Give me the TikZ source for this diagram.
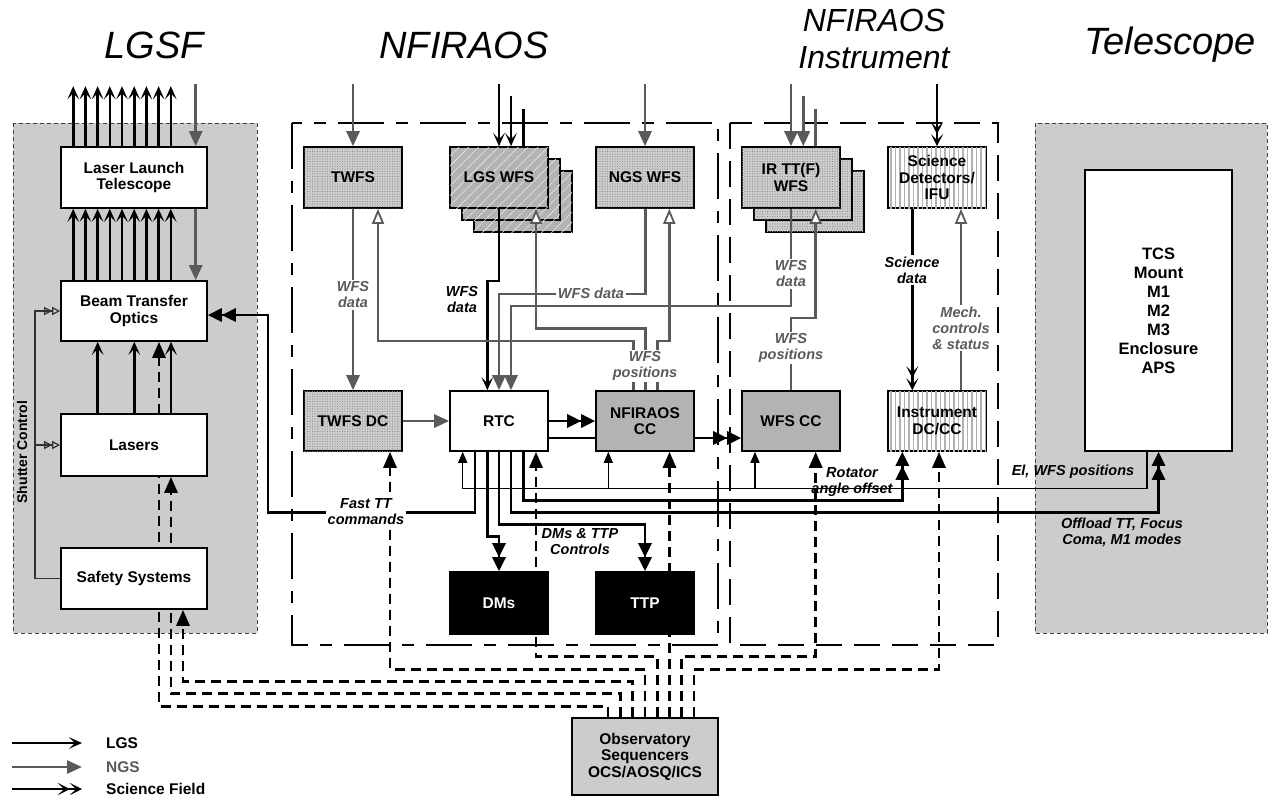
\documentclass[tikz,border=0pt]{standalone}
\usepackage{fontspec}
\setmainfont{Liberation Sans}
\usetikzlibrary{arrows.meta,patterns.meta,calc}
\definecolor{ngsgray}{HTML}{5A5A5A}
\definecolor{regiongray}{HTML}{CCCCCC}
\definecolor{boxgray}{HTML}{B3B3B3}
\definecolor{dotgray}{HTML}{CFCFCF}
\newcommand\BoxFnt{\fontsize{15.5}{16.5}\selectfont\bfseries}
\newcommand\TcsFnt{\fontsize{16.5}{19}\selectfont\bfseries}
\newcommand\LblFnt{\fontsize{14.5}{16}\selectfont\bfseries\itshape}
\newcommand\TitleFnt{\fontsize{38}{40}\selectfont\itshape}
\newcommand\SubTitleFnt{\fontsize{32}{37}\selectfont\itshape}
\pgfdeclarelayer{bgfill}
\pgfdeclarelayer{behind}
\pgfsetlayers{bgfill,behind,main}
\begin{document}
\begin{tikzpicture}[x=1pt,y=-1pt,
 box/.style={draw=black,line width=1.6pt,fill=white,inner sep=0pt,align=center,font=\BoxFnt,minimum width=98pt,minimum height=61pt},
 widebox/.style={box,minimum width=146pt},
 dotbox/.style={box,fill=dotgray,postaction={pattern={Dots[distance=2.5pt,radius=0.6pt]},pattern color=gray!90}},
 hatchbox/.style={box,fill=boxgray,postaction={pattern={Lines[angle=45,distance=7pt,line width=0.6pt]},pattern color=white!70!boxgray}},
 stripebox/.style={box,fill=white,postaction={pattern={Lines[angle=90,distance=4.5pt,line width=1.5pt]},pattern color=gray!60}},
 graybox/.style={box,fill=boxgray},
 blackbox/.style={box,fill=black,text=white},
 region/.style={draw=black!75,line width=0.9pt,dash pattern=on 4pt off 3pt,fill=regiongray},
 nfborder/.style={draw=black,line width=2.8pt,dash pattern=on 46pt off 12pt on 12pt off 12pt},
 instborder/.style={draw=black,line width=2.8pt,dash pattern=on 26pt off 12pt},
 title/.style={font=\TitleFnt,align=center,inner sep=0pt},
 lbl/.style={font=\LblFnt,align=center,inner sep=1.5pt},
 glbl/.style={lbl,text=ngsgray},
 wlbl/.style={fill=white},
 lgsline/.style={draw=black,line width=2.6pt,-{Stealth[length=13pt,width=11.5pt,inset=6pt]}},
 lgsplain/.style={draw=black,line width=2.6pt},
 ngsline/.style={draw=ngsgray,line width=2.7pt,-{Triangle[length=15pt,width=13pt]}},
 ngsplain/.style={draw=ngsgray,line width=2.7pt},
 openline/.style={draw=ngsgray,line width=2.5pt,-{Triangle[length=15pt,width=12pt,fill=white,line width=1.8pt]}},
 sciline/.style={draw=black,line width=2.6pt,-{Stealth[length=12pt,width=12pt,inset=6pt]Stealth[length=12pt,width=12pt,inset=6pt]}},
 dblline/.style={draw=black,line width=2.8pt,-{Triangle[length=14pt,width=13pt]Triangle[length=14pt,width=13pt]}},
 thickplain/.style={draw=black,line width=2.8pt},
 thinline/.style={draw=black,line width=1.3pt,-{Triangle[length=11pt,width=9pt]}},
 shutline/.style={draw=black!80,line width=1.2pt,-{Triangle[open,length=8pt,width=8pt]Triangle[open,length=8pt,width=8pt]}},
 dashline/.style={draw=black,line width=2.9pt,dash pattern=on 10pt off 6pt,-{Triangle[length=16pt,width=13pt]}},
]
\useasboundingbox (0,0) rectangle (1279,804);
\begin{pgfonlayer}{bgfill}
 \path[region] (13,123) rectangle (257,633);
 \path[region] (1035,123) rectangle (1267,633);
 \draw[nfborder] (292,123) rectangle (718,645);
 \draw[instborder] (730,123) rectangle (998,645);
\end{pgfonlayer}

% titles
\node[title] (tlgsf) at (154,45) {LGSF};
\node[title] (tnf) at (464,45) {NFIRAOS};
\node[title,font=\SubTitleFnt] (tinst) at (874,39) {NFIRAOS\\Instrument};
\node[title] (ttel) at (1170,45) {Telescope};

% LGSF boxes
\node[widebox,minimum height=61pt] (llt) at (134,177.5) {Laser Launch\\Telescope};
\node[widebox,minimum height=60pt] (bto) at (134,311) {Beam Transfer\\Optics};
\node[widebox,minimum height=62pt] (lasers) at (134,445) {Lasers};
\node[widebox,minimum height=61pt] (safety) at (134,578.5) {Safety Systems};

% NFIRAOS boxes
\node[dotbox] (twfs) at (353,177.5) {TWFS};
\node[hatchbox] (lgs3) at (523,201.5) {};
\node[hatchbox] (lgs2) at (511,189.5) {};
\node[hatchbox] (lgswfs) at (499,177.5) {LGS WFS};
\node[dotbox] (ngswfs) at (645,177.5) {NGS WFS};
\node[dotbox,minimum height=60pt] (twfsdc) at (353,421) {TWFS DC};
\node[box,minimum height=60pt] (rtc) at (499,421) {RTC};
\node[graybox,minimum height=60pt] (nfcc) at (645,421) {NFIRAOS\\CC};
\node[blackbox,minimum height=62pt] (dms) at (499,603) {DMs};
\node[blackbox,minimum height=62pt] (ttp) at (645,603) {TTP};

% Instrument boxes
\node[dotbox] (ir3) at (815,201.5) {};
\node[dotbox] (ir2) at (803,189.5) {};
\node[dotbox] (irtt) at (791,177.5) {IR TT(F)\\WFS};
\node[stripebox] (scidet) at (937,177.5) {Science\\Detectors/\\IFU};
\node[graybox,minimum height=60pt] (wfscc) at (791,421) {WFS CC};
\node[stripebox,minimum height=60pt] (instdc) at (937,421) {Instrument\\DC/CC};

% Telescope
\node[box,minimum width=147pt,minimum height=281pt,font=\TcsFnt] (tcs) at (1158.5,310.5) {TCS\\Mount\\M1\\M2\\M3\\Enclosure\\APS};

% Observatory sequencers
\node[box,minimum width=146pt,minimum height=77pt,fill=regiongray] (obs) at (645,756.5) {Observatory\\Sequencers\\OCS/AOSQ/ICS};

% ---------- dashed sequencer links (behind boxes)
\begin{pgfonlayer}{behind}
 \draw[dashline] ($(obs.north)+(-37,0)$) -- ++(0,-11) -| ($(bto.south)+(25,0)$);
 \draw[dashline] ($(obs.north)+(-24.7,0)$) -- ++(0,-24) -| ($(lasers.south)+(37,0)$);
 \draw[dashline] ($(obs.north)+(-12.3,0)$) -- ++(0,-36) -| ($(safety.south)+(49,0)$);
 \draw[dashline] (obs.north) -- ++(0,-48) -| ($(twfsdc.south)+(37,0)$);
 \draw[dashline] ($(obs.north)+(12.3,0)$) -- ++(0,-61) -| ($(rtc.south)+(37,0)$);
 \draw[dashline] ($(obs.north)+(24.5,0)$) -- ($(nfcc.south)+(24.5,0)$);
 \draw[dashline] ($(obs.north)+(36.8,0)$) -- ++(0,-61) -| ($(wfscc.south)+(24.7,0)$);
 \draw[dashline] ($(obs.north)+(49,0)$) -- ++(0,-48) -| ($(instdc.south)+(2,0)$);
\end{pgfonlayer}

% ---------- LGSF connectors
\foreach \dx in {-60.8,-48.6,-36.4,-24.2,-12,0.2,12.4,24.6,36.8}{
  \draw[lgsline] ($(llt.north)+(\dx,0)$) -- ++(0,-60);
  \draw[lgsline] ($(bto.north)+(\dx,0)$) -- ($(llt.south)+(\dx,0)$);
}
\draw[ngsline] ($(llt.north)+(61.7,-62)$) -- ($(llt.north)+(61.7,0)$);
\draw[ngsline] ($(llt.south)+(61.7,0)$) -- ($(bto.north)+(61.7,0)$);
\foreach \dx in {-36.3,0.3,37}{
  \draw[lgsline] ($(lasers.north)+(\dx,0)$) -- ($(bto.south)+(\dx,0)$);
}
\coordinate (shut) at (35,311);
\draw[shutline] (safety.west) -| (shut) -- (bto.west);
\draw[shutline] (shut |- lasers.west) -- (lasers.west);
\node[rotate=90,font=\fontsize{14}{16}\selectfont\bfseries,inner sep=0pt] (shuttxt) at (22,452) {Shutter Control};

% ---------- NFIRAOS top inputs
\draw[ngsline] ($(twfs.north)+(0,-62)$) -- (twfs.north);
\draw[lgsline] ($(lgswfs.north)+(0,-62)$) -- (lgswfs.north);
\draw[lgsline] ($(lgswfs.north)+(12,-50)$) -- ($(lgswfs.north)+(12,0)$);
\draw[lgsplain] ($(lgswfs.north)+(24.3,-37)$) -- ($(lgswfs.north)+(24.3,0)$);
\draw[ngsline] ($(ngswfs.north)+(0,-62)$) -- (ngswfs.north);

% Instrument top inputs
\draw[ngsline] ($(irtt.north)+(0,-62)$) -- (irtt.north);
\draw[ngsline] ($(irtt.north)+(12.3,-50)$) -- ($(irtt.north)+(12.3,0)$);
\draw[ngsplain] ($(irtt.north)+(24.7,-37)$) -- ($(irtt.north)+(24.7,0)$);
\draw[sciline] ($(scidet.north)+(0,-62)$) -- (scidet.north);

% ---------- WFS data flows
\draw[ngsline] (twfs.south) -- (twfsdc.north);
\draw[lgsline] (lgswfs.south) -- ++(0,72) -| ($(rtc.north)+(-11.7,0)$);
\draw[ngsline] ($(ngswfs.south)+(0.7,0)$) -- ++(0,85.3) -| (rtc.north);
\draw[ngsline] (irtt.south) -- ++(0,97.3) -| ($(rtc.north)+(12,0)$);

% WFS positions (open arrows)
\draw[openline] ($(nfcc.north)+(-11.7,0)$) -- ++(0,-49) -| ($(twfs.south)+(25,0)$);
\draw[openline] ($(nfcc.north)+(0.7,0)$) -- ++(0,-61.7) -| ($(lgswfs.south)+(37,0)$);
\draw[openline] ($(nfcc.north)+(12.7,0)$) -- ++(0,-49) -| ($(ngswfs.south)+(24.3,0)$);
\draw[openline] (wfscc.north) -- ++(0,-72) -| ($(irtt.south)+(24.7,0)$);

% Science path
\draw[sciline] ($(scidet.south)+(-24.7,0)$) -- ($(instdc.north)+(-24.7,0)$);
\draw[openline] ($(instdc.north)+(24,0)$) -- ($(scidet.south)+(24,0)$);

% ---------- RTC region
\draw[ngsline] (twfsdc.east) -- (rtc.west);
\draw[dblline] (rtc.east) -- (nfcc.west);
\draw[thickplain] ($(rtc.east)+(0,17)$) -- ($(nfcc.west)+(0,17)$);
\draw[dblline] ($(nfcc.east)+(0,17)$) -- ($(wfscc.west)+(0,17)$);

\coordinate (ftt) at (268,315);
\draw[dblline] ($(rtc.south)+(-24,0)$) -- ++(0,61) -| (ftt) -- (ftt -| bto.east);
\draw[dblline] ($(rtc.south)+(-11.7,0)$) -- ++(0,84.7) -| (dms.north);
\draw[dblline] (rtc.south) -- ++(0,72.3) -| (ttp.north);
\draw[dblline] ($(rtc.south)+(12,0)$) -- ++(0,61) -| (tcs.south);
\draw[dblline] ($(rtc.south)+(24.3,0)$) -- ++(0,49) -| ($(instdc.south)+(-34.7,0)$);

\draw[thinline] ($(tcs.south)+(-11.5,0)$) -- ++(0,37) -| ($(rtc.south)+(-36.3,0)$);
\draw[thinline] ($(nfcc.south)+(-36.7,37)$) -- ($(nfcc.south)+(-36.7,0)$);
\draw[thinline] ($(wfscc.south)+(-36,37)$) -- ($(wfscc.south)+(-36,0)$);

% ---------- labels
\node[glbl,wlbl] (l1) at (353,295) {WFS\\data};
\node[lbl] (l2) at (462,300) {WFS\\data};
\node[glbl,wlbl] (l3) at (591,293) {WFS data};
\node[glbl,wlbl] (l4) at (645,366) {WFS\\positions};
\node[glbl,wlbl] (l5) at (791,274) {WFS\\data};
\node[glbl,wlbl] (l6) at (791,348) {WFS\\positions};
\node[lbl,wlbl] (l7) at (912,270) {Science\\data};
\node[glbl,wlbl] (l8) at (961,328) {Mech.\\controls\\\& status};
\node[lbl,wlbl] (l9) at (366,512) {Fast TT\\commands};
\node[lbl] (l10) at (580,542) {DMs \& TTP\\Controls};
\node[lbl] (l11) at (852,482) {Rotator\\angle offset};
\node[lbl] (l12) at (1073,472) {El, WFS positions};
\node[lbl] (l13) at (1122,532) {Offload TT, Focus\\Coma, M1 modes};

% ---------- legend
\coordinate (lga1) at (12,743); \coordinate (lga2) at (82,743);
\coordinate (lgb1) at (12,767); \coordinate (lgb2) at (82,767);
\coordinate (lgc1) at (12,789); \coordinate (lgc2) at (82,789);
\draw[lgsline] (lga1) -- (lga2);
\draw[ngsline] (lgb1) -- (lgb2);
\draw[sciline] (lgc1) -- (lgc2);
\node[anchor=west,font=\BoxFnt,inner sep=0pt] (lgst) at (106,743) {LGS};
\node[anchor=west,font=\BoxFnt,inner sep=0pt,text=ngsgray] (ngst) at (106,767) {NGS};
\node[anchor=west,font=\BoxFnt,inner sep=0pt] (scit) at (106,789) {Science Field};
\end{tikzpicture}
\end{document}
